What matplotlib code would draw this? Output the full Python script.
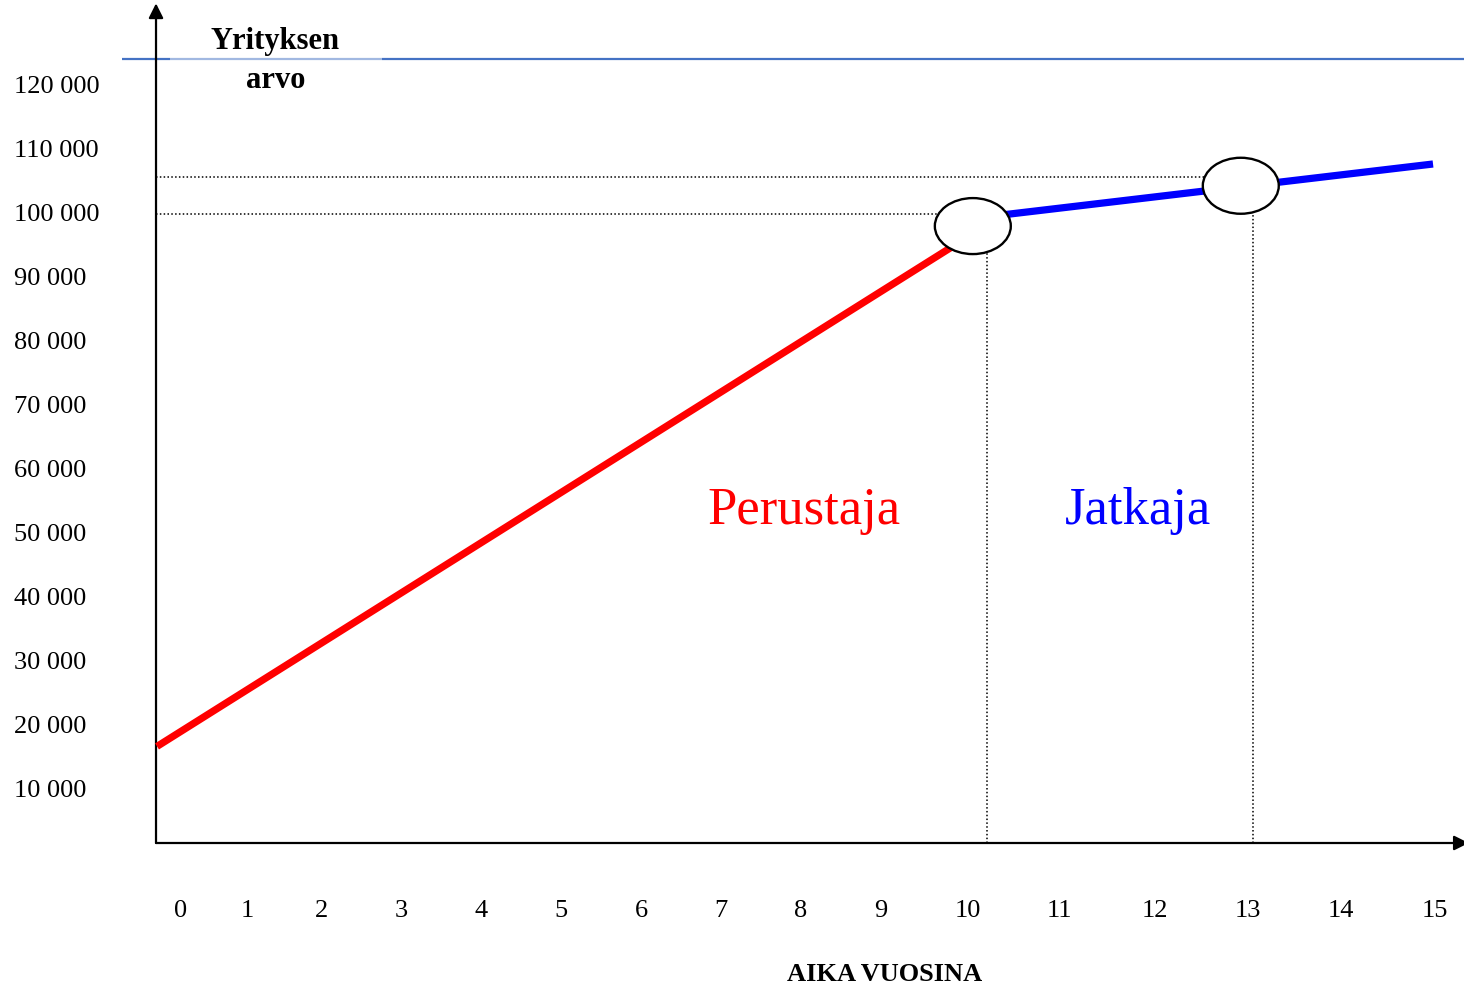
import matplotlib
matplotlib.use("Agg")
import matplotlib.pyplot as plt
from matplotlib.patches import Ellipse, Rectangle

# --- values -----------------------------------------------------------
founder_years = [0.0, 9.59]
founder_values = [16500, 96600]
successor_years = [9.59, 15.0]
successor_values = [99000, 107500]

handover_years = [9.59, 12.74]
handover_values = [97800, 104100]

guide_values = [99700, 105500]
guide_years = [9.76, 12.88]

y_ticks = [10000, 20000, 30000, 40000, 50000, 60000,
           70000, 80000, 90000, 100000, 110000, 120000]
y_tick_labels = ["10 000", "20 000", "30 000", "40 000", "50 000", "60 000",
                 "70 000", "80 000", "90 000", "100 000", "110 000", "120 000"]
x_tick_labels = ["0", "1", "2", "3", "4", "5", "6", "7",
                 "8", "9", "10", "11", "12", "13", "14", "15"]
x_tick_pos = [0.28, 1.06, 1.93, 2.87, 3.81, 4.75, 5.69, 6.63,
              7.57, 8.51, 9.53, 10.61, 11.73, 12.82, 13.92, 15.02]

# --- figure -----------------------------------------------------------
serif = "Liberation Serif"
fig = plt.figure(figsize=(14.64, 9.84), dpi=100)
ax = fig.add_axes([0, 0, 1, 1])
ax.set_xlim(-1.846, 15.364)
ax.set_ylim(-20625, 133125)
ax.axis("off")

axis_x = -0.012
axis_y = 1406
text_drop = 470  # small downward nudge so text sits on its visual centre

# value axis and time axis with arrow heads
ax.annotate("", xy=(axis_x, 132600), xytext=(axis_x, axis_y),
            arrowprops=dict(arrowstyle="-|>", lw=1.6, color="black",
                            mutation_scale=22, shrinkA=0, shrinkB=0),
            annotation_clip=False)
ax.annotate("", xy=(15.42, axis_y), xytext=(axis_x, axis_y),
            arrowprops=dict(arrowstyle="-|>", lw=1.6, color="black",
                            mutation_scale=22, shrinkA=0, shrinkB=0),
            annotation_clip=False)

# header rule, lightened behind the axis title
ax.plot([-0.41, 15.4], [123906, 123906], color="#4472C4", lw=1.6,
        solid_capstyle="butt", zorder=2)
ax.add_patch(Rectangle((0.153, 117000), 2.492, 13000, facecolor="white",
                       alpha=0.5, edgecolor="none", zorder=3))

# dotted guides
dot = (0, (1, 1.5))
for gv, hx in zip(guide_values, handover_years):
    ax.plot([axis_x, hx], [gv, gv], color="black", lw=1.1, ls=dot, zorder=1)
for gx, hv in zip(guide_years, handover_values):
    ax.plot([gx, gx], [axis_y, hv], color="black", lw=1.1, ls=dot, zorder=1)

# value lines
ax.plot(founder_years, founder_values, color="#FF0000", lw=5.2,
        solid_capstyle="butt", zorder=4)
ax.plot(successor_years, successor_values, color="#0000FF", lw=5.2,
        solid_capstyle="butt", zorder=4)

# handover markers
for hx, hv in zip(handover_years, handover_values):
    ax.add_patch(Ellipse((hx, hv), 0.893, 8750, facecolor="white",
                         edgecolor="black", lw=1.7, zorder=5))

# tick labels
for v, lab in zip(y_ticks, y_tick_labels):
    ax.text(-1.68, v - text_drop, lab, ha="left", va="center", fontsize=19,
            family=serif)
for xp, lab in zip(x_tick_pos, x_tick_labels):
    ax.text(xp, -8750 - text_drop, lab, ha="center", va="center", fontsize=19,
            family=serif)

# titles and annotations
ax.text(1.39, 127187 - text_drop, "Yrityksen", ha="center", va="center",
        fontsize=22, fontweight="bold", family=serif, zorder=6)
ax.text(1.39, 121094 - text_drop, "arvo", ha="center", va="center",
        fontsize=22, fontweight="bold", family=serif, zorder=6)
ax.text(8.55, -18594 - text_drop, "AIKA VUOSINA", ha="center", va="center",
        fontsize=19, fontweight="bold", family=serif)
ax.text(7.60, 53750 - text_drop, "Perustaja", ha="center", va="center",
        fontsize=38, color="#FF0000", family=serif)
ax.text(11.53, 53750 - text_drop, "Jatkaja", ha="center", va="center",
        fontsize=38, color="#0000FF", family=serif)

fig.savefig("out.png", dpi=100)
